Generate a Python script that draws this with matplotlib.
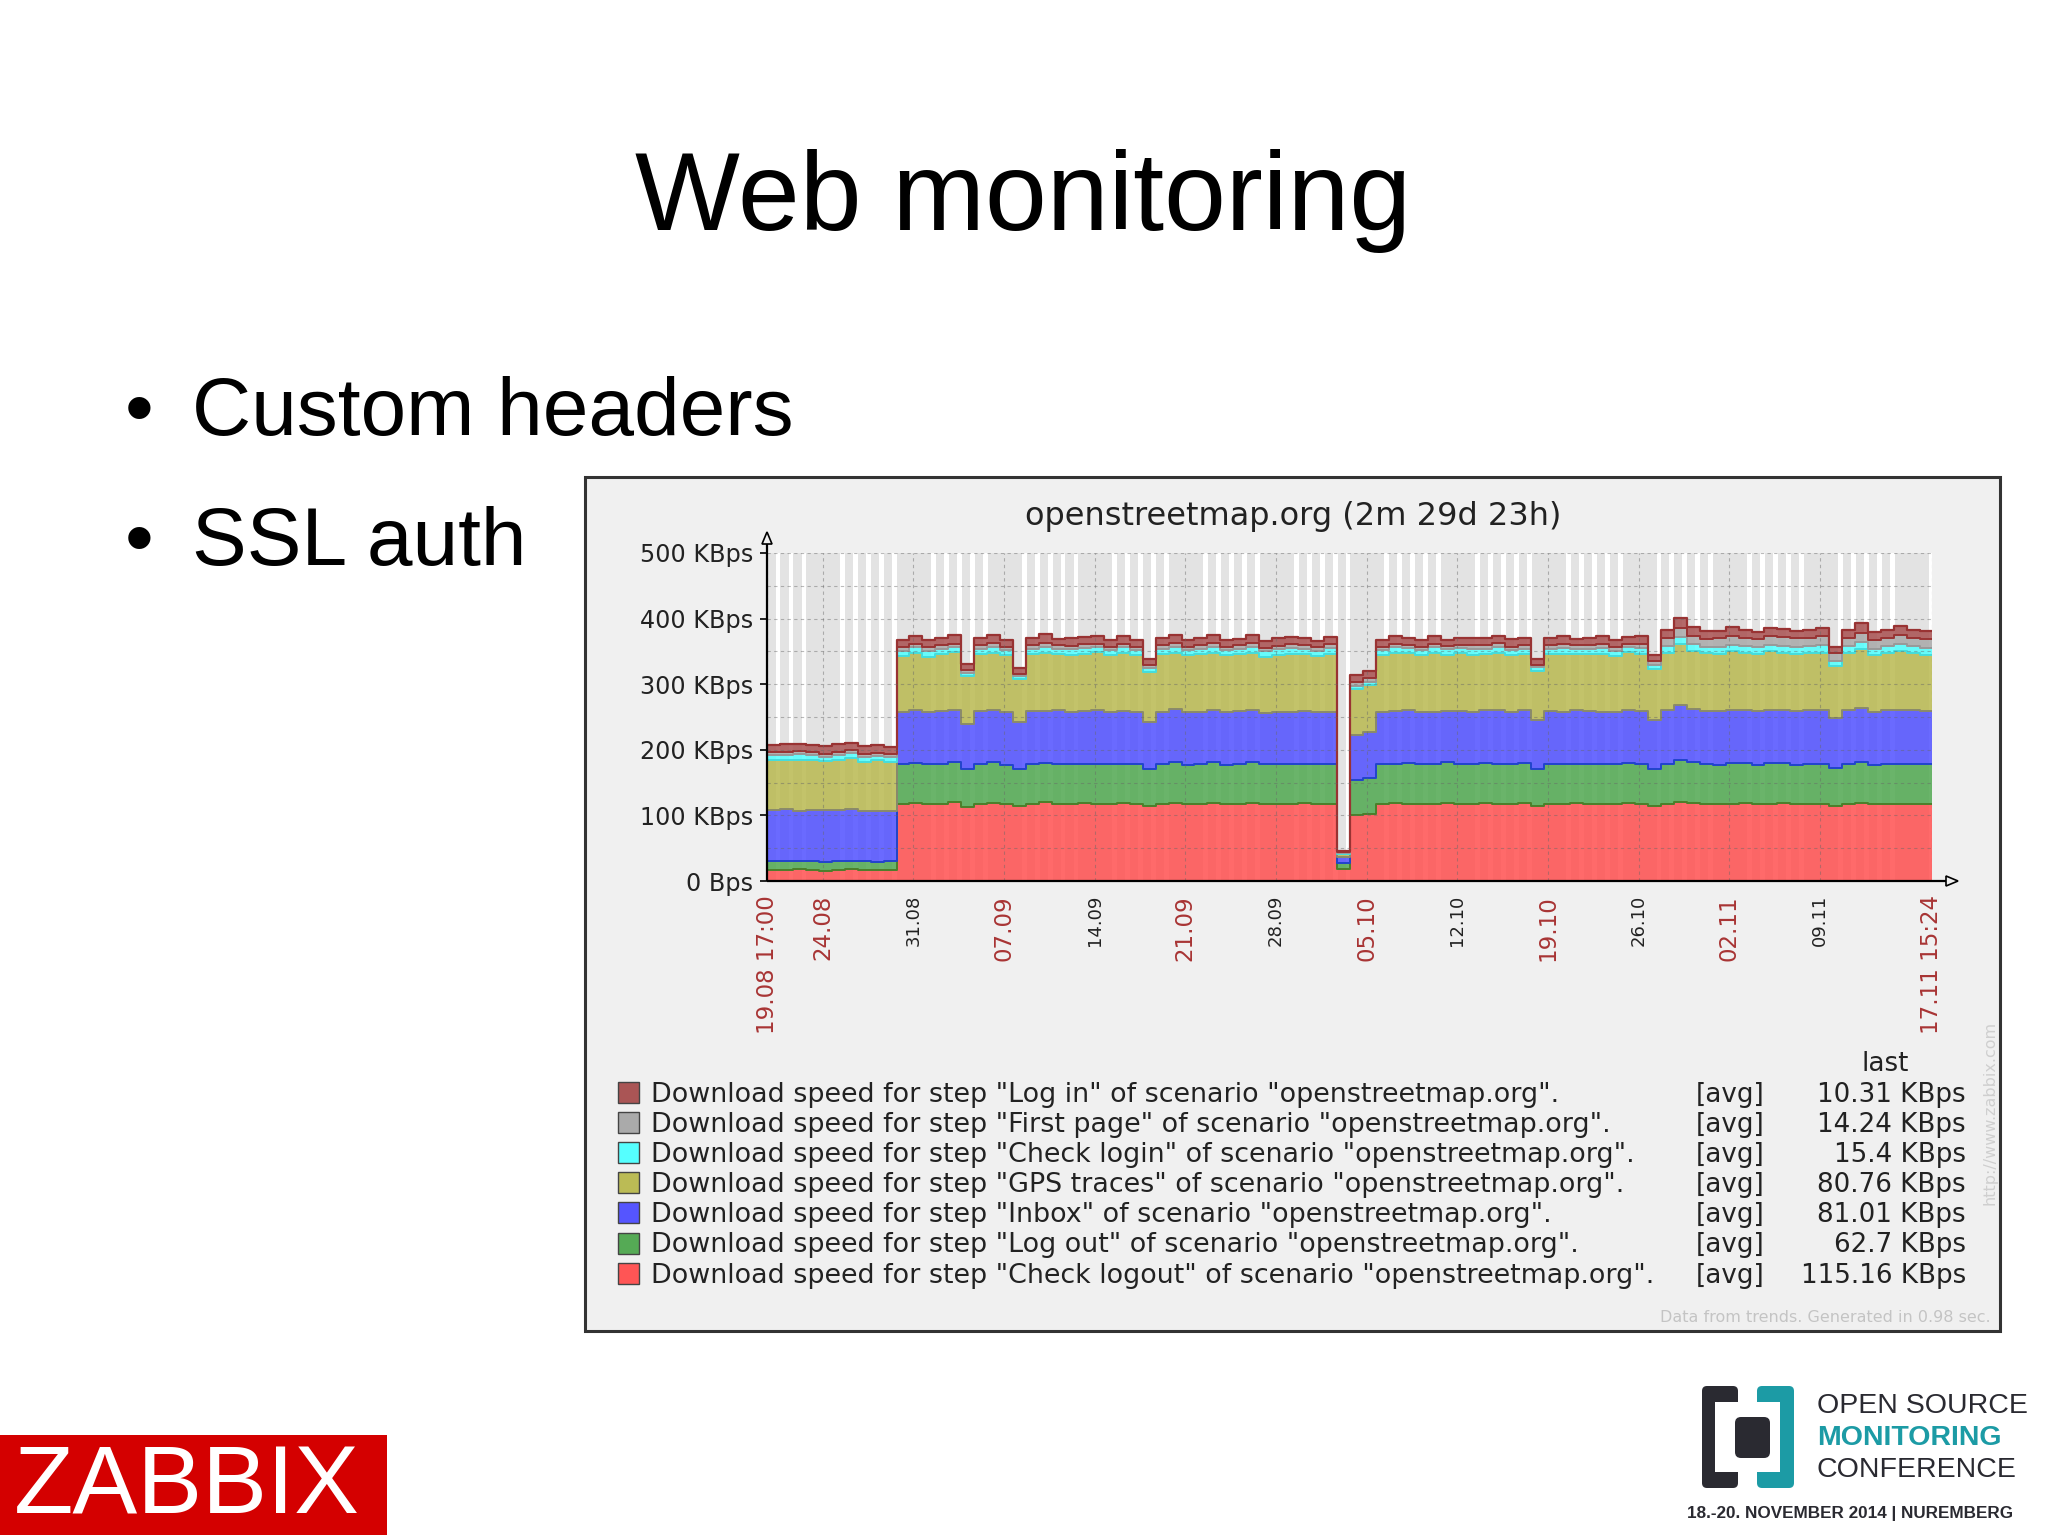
import datetime as dt
import numpy as np
import matplotlib
matplotlib.use('Agg')
import matplotlib.pyplot as plt
from matplotlib.patches import Rectangle, Polygon, FancyBboxPatch
from matplotlib import font_manager

# slide texts
slide_title = 'Web monitoring'
bullets = ['Custom headers', 'SSL auth']

# graph texts
graph_title = 'openstreetmap.org (2m 29d 23h)'
start_time = '2014-08-19 17:00'
end_time = '2014-11-17 15:24'

tick_times = ['2014-08-19 17:00', '2014-08-24 00:00', '2014-08-31 00:00', '2014-09-07 00:00',
              '2014-09-14 00:00', '2014-09-21 00:00', '2014-09-28 00:00', '2014-10-05 00:00',
              '2014-10-12 00:00', '2014-10-19 00:00', '2014-10-26 00:00', '2014-11-02 00:00',
              '2014-11-09 00:00', '2014-11-17 15:24']
tick_labels = ['19.08 17:00', '24.08', '31.08', '07.09', '14.09', '21.09', '28.09', '05.10',
               '12.10', '19.10', '26.10', '02.11', '09.11', '17.11 15:24']

y_ticks = [0, 100, 200, 300, 400, 500]
y_tick_labels = ['0 Bps', '100 KBps', '200 KBps', '300 KBps', '400 KBps', '500 KBps']

legend_steps = ['Log in', 'First page', 'Check login', 'GPS traces', 'Inbox', 'Log out', 'Check logout']
legend_last = ['10.31 KBps', '14.24 KBps', '15.4 KBps', '80.76 KBps', '81.01 KBps', '62.7 KBps', '115.16 KBps']

# daily averages (KBps), one value per day since 19.08 17:00
check_logout = [17, 17, 18, 17, 16, 17, 18, 17, 17, 17,
                118, 119, 117, 118, 120, 113, 118, 119, 117, 114,
                118, 120, 117, 118, 119, 118, 117, 119, 118, 114,
                118, 119, 117, 118, 119, 117, 118, 119, 118, 117,
                118, 119, 117, 118, 18, 100, 102, 117, 119, 118,
                117, 118, 119, 117, 118, 119, 117, 118, 119, 114,
                118, 117, 119, 118, 117, 118, 119, 117, 114, 118,
                121, 119, 118, 117, 118, 119, 117, 118, 119, 117,
                118, 117, 115, 118, 119, 117, 118, 117, 118, 117]
log_out = [13, 13, 12, 13, 13, 14, 13, 13, 12, 13,
           60, 61, 62, 60, 61, 57, 61, 62, 60, 56,
           61, 60, 62, 61, 60, 61, 62, 60, 61, 57,
           61, 62, 60, 61, 62, 60, 61, 62, 60, 61,
           61, 60, 62, 61, 10, 54, 55, 61, 60, 62,
           61, 60, 62, 61, 60, 61, 62, 60, 61, 57,
           61, 62, 60, 61, 62, 60, 61, 62, 57, 61,
           64, 62, 61, 60, 62, 61, 60, 62, 61, 60,
           61, 62, 58, 61, 62, 60, 61, 62, 61, 61]
inbox = [78, 79, 77, 78, 79, 77, 78, 76, 78, 77,
         79, 80, 78, 81, 79, 70, 80, 79, 81, 72,
         80, 79, 81, 78, 80, 81, 79, 80, 78, 72,
         79, 81, 80, 78, 79, 81, 80, 79, 78, 80,
         79, 80, 78, 79, 8, 69, 70, 79, 80, 81,
         79, 80, 78, 81, 79, 80, 81, 79, 80, 74,
         80, 79, 81, 80, 78, 79, 81, 80, 74, 81,
         84, 81, 80, 82, 81, 80, 82, 81, 80, 82,
         81, 82, 76, 81, 82, 80, 81, 82, 81, 81]
gps_traces = [77, 76, 78, 77, 75, 77, 78, 76, 77, 75,
              86, 88, 85, 87, 89, 72, 87, 88, 86, 66,
              87, 89, 86, 88, 87, 89, 86, 88, 87, 76,
              88, 86, 87, 89, 88, 86, 87, 88, 86, 87,
              88, 87, 86, 88, 5, 70, 72, 87, 88, 86,
              87, 89, 86, 88, 87, 86, 88, 87, 86, 75,
              87, 88, 86, 87, 89, 86, 88, 87, 78, 88,
              92, 89, 88, 87, 89, 88, 87, 89, 88, 87,
              88, 87, 78, 88, 90, 87, 88, 89, 88, 86]
check_login = [7, 7, 8, 7, 6, 7, 8, 7, 6, 7,
               8, 8, 9, 8, 8, 5, 8, 9, 8, 4,
               8, 9, 8, 8, 9, 8, 8, 9, 8, 6,
               8, 9, 8, 8, 9, 8, 8, 9, 8, 8,
               9, 8, 8, 9, 2, 5, 5, 8, 9, 8,
               8, 9, 8, 8, 9, 8, 9, 8, 8, 6,
               8, 9, 8, 8, 9, 8, 8, 9, 7, 10,
               11, 10, 10, 11, 10, 10, 11, 10, 10, 11,
               10, 11, 8, 10, 11, 10, 10, 11, 10, 10]
first_page = [4, 4, 5, 4, 4, 5, 4, 4, 5, 4,
              5, 5, 6, 5, 5, 4, 5, 6, 5, 3,
              5, 6, 5, 5, 6, 5, 5, 6, 5, 4,
              5, 6, 5, 5, 6, 5, 5, 6, 5, 5,
              6, 5, 5, 6, 1, 6, 6, 5, 6, 5,
              5, 6, 5, 5, 6, 5, 6, 5, 5, 4,
              5, 6, 5, 5, 6, 5, 5, 6, 5, 12,
              13, 13, 12, 13, 14, 13, 12, 13, 14, 13,
              13, 14, 12, 13, 14, 13, 13, 14, 13, 14]
log_in = [12, 13, 11, 12, 13, 12, 11, 13, 12, 12,
          11, 12, 10, 11, 13, 10, 11, 12, 11, 9,
          11, 13, 10, 12, 11, 12, 10, 12, 11, 10,
          11, 12, 10, 11, 12, 11, 10, 12, 11, 12,
          11, 12, 10, 11, 2, 10, 10, 11, 12, 10,
          11, 12, 10, 11, 12, 11, 10, 12, 11, 9,
          11, 12, 10, 11, 12, 11, 10, 12, 10, 12,
          16, 13, 12, 11, 13, 12, 11, 13, 12, 11,
          12, 13, 10, 12, 16, 12, 11, 13, 12, 12]

# colours: fill, edge (bottom -> top of the stack)
stack = [(check_logout, '#FF5555', '#CC3333'),
         (log_out, '#55AA55', '#4C7F2A'),
         (inbox, '#5555FF', '#2244CC'),
         (gps_traces, '#BBBB55', '#8A8A6A'),
         (check_login, '#55FFFF', '#44DDDD'),
         (first_page, '#AAAAAA', '#999999'),
         (log_in, '#AA5555', '#993333')]
legend_colors = ['#AA5555', '#AAAAAA', '#55FFFF', '#BBBB55', '#5555FF', '#55AA55', '#FF5555']

W, H = 2048, 1535
fig = plt.figure(figsize=(W / 100, H / 100), dpi=100, facecolor='white')


def px(x0, y0, x1, y1):
    # pixel box (origin top-left) -> figure fraction
    return [x0 / W, 1 - y1 / H, (x1 - x0) / W, (y1 - y0) / H]


def overlay(z):
    a = fig.add_axes([0, 0, 1, 1])
    a.set_xlim(0, W)
    a.set_ylim(H, 0)
    a.axis('off')
    a.set_zorder(z)
    return a


bg = overlay(0)
ov = overlay(2)

SANS = 'Liberation Sans'
DV = 'DejaVu Sans'

# slide
bg.text(1023, 230, slide_title, fontsize=80, family=SANS, ha='center', va='baseline')
for i, b in enumerate(bullets):
    yb = 435 + i * 130
    bg.text(125, yb, '\u2022', fontsize=59, family=SANS, va='baseline')
    bg.text(192, yb, b, fontsize=59, family=SANS, va='baseline')

# graph panel
bg.add_patch(Rectangle((585, 477), 1415, 854, fc='#F0F0F0', ec='#333333', lw=2.2))
bg.text(1293, 516, graph_title, fontsize=23, family=DV, color='#222222', ha='center', va='center')

fmt = '%Y-%m-%d %H:%M'
t0 = dt.datetime.strptime(start_time, fmt)
t1 = dt.datetime.strptime(end_time, fmt)
span = (t1 - t0).total_seconds() / 86400


def offset(s):
    return (dt.datetime.strptime(s, fmt) - t0).total_seconds() / 86400


ax = fig.add_axes(px(767, 553, 1932, 881))
ax.set_zorder(1)
ax.set_xlim(0, span)
ax.set_ylim(0, 500)
ax.set_facecolor('#E3E3E3')

# working time Mon-Fri 09-18 in white
day = t0.replace(hour=0, minute=0)
while day < t1:
    if day.weekday() < 5:
        a = (day + dt.timedelta(hours=9) - t0).total_seconds() / 86400
        b = (day + dt.timedelta(hours=18) - t0).total_seconds() / 86400
        if b > 0:
            ax.axvspan(max(a, 0), min(b, span), color='white', lw=0, zorder=0.5)
    day += dt.timedelta(days=1)

x = np.append(np.arange(len(check_logout)), span)
base = np.zeros(len(x))
bottoms = []
for vals, face, edge in stack:
    v = np.append(vals, vals[-1]).astype(float)
    top = base + v
    ax.fill_between(x, base, top, step='post', facecolor=face, alpha=0.88, lw=0, zorder=1.5)
    bottoms.append(base)
    base = top
for (vals, face, edge), bot in zip(stack[1:], bottoms[1:]):
    ax.step(x, bot, where='post', color=edge, lw=1.4, zorder=2)
ax.step(x, base, where='post', color=stack[-1][2], lw=1.6, zorder=2)

ax.set_yticks(y_ticks, y_tick_labels)
ax.set_yticks(np.arange(50, 500, 100), minor=True)
ax.set_xticks([offset(t) for t in tick_times], tick_labels)
ax.set_axisbelow(False)
ax.grid(True, which='both', color='#666666', alpha=0.45, ls=(0, (3, 3)), lw=0.8)
ax.tick_params(axis='y', which='major', length=5, width=1.2, pad=5, labelsize=17.2,
               labelcolor='#222222', color='black')
ax.tick_params(axis='y', which='minor', length=0)
ax.tick_params(axis='x', length=0, pad=10, labelrotation=90)
for lab in ax.get_yticklabels():
    lab.set_family(DV)
n = len(tick_labels)
for i, lab in enumerate(ax.get_xticklabels()):
    main = i in (0, n - 1) or i % 2 == 1
    lab.set_family(DV)
    lab.set_color('#A83434' if main else '#222222')
    lab.set_fontsize(16.5 if main else 13)
for s in ax.spines.values():
    s.set_visible(False)

# axes with arrows
ov.plot([767, 767], [881, 544], color='black', lw=1.6, solid_capstyle='butt')
ov.plot([767, 1946], [881, 881], color='black', lw=1.6, solid_capstyle='butt')
ov.add_patch(Polygon([(762, 544), (772, 544), (767, 532)], closed=True, fc='#F0F0F0', ec='black', lw=1.2))
ov.add_patch(Polygon([(1946, 876), (1946, 886), (1958, 881)], closed=True, fc='#F0F0F0', ec='black', lw=1.2))

# legend
ov.text(1885, 1071, 'last', fontsize=18.8, family=DV, color='#222222', ha='center', va='baseline')
for i, (name, last, col) in enumerate(zip(legend_steps, legend_last, legend_colors)):
    yc = 1093 + i * 30.1
    ov.add_patch(Rectangle((618, yc - 11), 21, 21, fc=col, ec='#444444', lw=1))
    ov.text(651, yc + 9, 'Download speed for step "%s" of scenario "openstreetmap.org".' % name,
            fontsize=19.4, family=DV, color='#222222', va='baseline')
    ov.text(1730, yc + 9, '[avg]', fontsize=18.8, family=DV, color='#222222', ha='center', va='baseline')
    ov.text(1966, yc + 9, last, fontsize=18.8, family=DV, color='#222222', ha='right', va='baseline')
ov.text(1991, 1322, 'Data from trends. Generated in 0.98 sec.', fontsize=11.5, family=DV,
        color='#C4C4C4', ha='right', va='baseline')
ov.text(1990, 1113, 'http://www.zabbix.com', fontsize=11.5, family=DV, color='#CFCFCF',
        rotation=90, ha='center', va='center')

# ZABBIX logo
bg.add_patch(Rectangle((0, 1435), 387, 100, fc='#D40000', ec='none'))
bg.text(14, 1513, 'ZABBIX', fontsize=70, family=SANS, color='white', va='baseline')

# OSMC logo
names = {f.name for f in font_manager.fontManager.ttflist}
if 'Liberation Sans Narrow' in names:
    nar, s1, s2 = 'Liberation Sans Narrow', 24.5, 15
else:
    nar, s1, s2 = SANS, 20.5, 12.3
dark, teal = '#2A2A31', '#1C9BA5'
bg.add_patch(FancyBboxPatch((1702, 1386), 36, 102, boxstyle='round,pad=0,rounding_size=5', fc=dark, ec='none'))
bg.add_patch(Rectangle((1715, 1402), 24, 70, fc='white', ec='none'))
bg.add_patch(FancyBboxPatch((1757, 1386), 37, 102, boxstyle='round,pad=0,rounding_size=5', fc=teal, ec='none'))
bg.add_patch(Rectangle((1756, 1402), 24, 70, fc='white', ec='none'))
bg.add_patch(FancyBboxPatch((1735, 1417), 35, 41, boxstyle='round,pad=0,rounding_size=6', fc=dark, ec='none'))
bg.text(1817, 1413, 'OPEN SOURCE', fontsize=s1, family=nar, color=dark, va='baseline')
bg.text(1817, 1445, 'MONITORING', fontsize=s1, family=nar, color=teal, weight='bold', va='baseline')
bg.text(1817, 1477, 'CONFERENCE', fontsize=s1, family=nar, color=dark, va='baseline')
bg.text(1687, 1518, '18.-20. NOVEMBER 2014 | NUREMBERG', fontsize=s2, family=nar, color=dark,
        weight='bold', va='baseline')

fig.savefig('out.png', dpi=100, facecolor='white')
